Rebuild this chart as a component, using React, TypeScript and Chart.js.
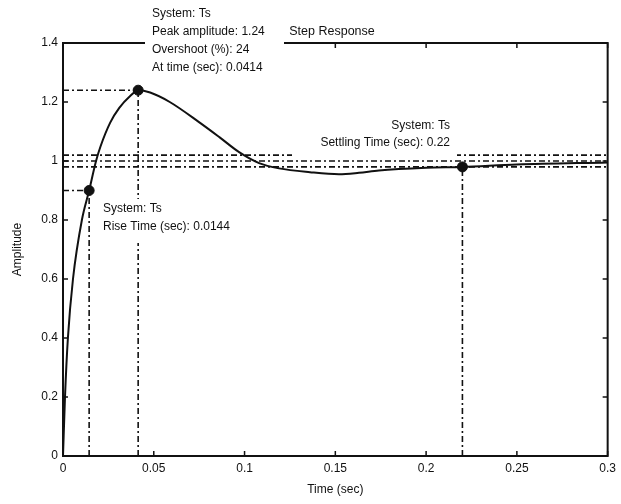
import React, { useEffect, useRef } from "react";
import { Chart, registerables } from "chart.js";

Chart.register(...registerables);

// Step response curve
const timeSec = [0, 0.0011, 0.0027, 0.0055, 0.0104, 0.0144, 0.0182, 0.0207, 0.026, 0.031, 0.037, 0.0414, 0.048, 0.0588, 0.0753, 0.0863, 0.097, 0.108, 0.119, 0.136, 0.152, 0.163, 0.174, 0.2, 0.22, 0.25, 0.3];
const amplitude = [0, 0.2, 0.4, 0.6, 0.8, 0.9, 1.0, 1.05, 1.13, 1.18, 1.22, 1.24, 1.232, 1.2, 1.13, 1.08, 1.03, 0.993, 0.975, 0.962, 0.955, 0.96, 0.968, 0.977, 0.98, 0.988, 0.995];

// Characteristic points: rise, peak, settling
const markerTimes = [0.0144, 0.0414, 0.22];
const markerValues = [0.9, 1.24, 0.98];

// Settling band levels
const bandLevels = [0.98, 1.0, 1.02];

const xTicks = [0, 0.05, 0.1, 0.15, 0.2, 0.25, 0.3];
const yTicks = [0, 0.2, 0.4, 0.6, 0.8, 1, 1.2, 1.4];

const titleText = "Step Response";
const xTitle = "Time (sec)";
const yTitle = "Amplitude";
const peakLines = ["System: Ts", "Peak amplitude: 1.24", "Overshoot (%): 24", "At time (sec): 0.0414"];
const riseLines = ["System: Ts", "Rise Time (sec): 0.0144"];
const settleLines = ["System: Ts", "Settling Time (sec): 0.22"];

const INK = "#111";
const FONT = "'Liberation Sans', Arial, sans-serif";
const DASH = [6, 3, 2, 3];

const annotPlugin = {
  id: "annot",
  beforeDraw(chart: any) {
    const { ctx, width, height } = chart;
    ctx.save();
    ctx.fillStyle = "#fff";
    ctx.fillRect(0, 0, width, height);
    ctx.restore();
  },
  afterDatasetsDraw(chart: any) {
    const { ctx, chartArea: a, scales } = chart;
    const xs = scales.x;
    const ys = scales.y;
    ctx.save();
    // frame
    ctx.strokeStyle = INK;
    ctx.lineWidth = 2;
    ctx.setLineDash([]);
    ctx.strokeRect(a.left, a.top, a.right - a.left, a.bottom - a.top);
    // inward ticks on all sides
    ctx.lineWidth = 1.5;
    ctx.beginPath();
    xs.ticks.forEach((t: any) => {
      const px = xs.getPixelForValue(t.value);
      ctx.moveTo(px, a.bottom);
      ctx.lineTo(px, a.bottom - 5);
      ctx.moveTo(px, a.top);
      ctx.lineTo(px, a.top + 5);
    });
    ys.ticks.forEach((t: any) => {
      const py = ys.getPixelForValue(t.value);
      ctx.moveTo(a.left, py);
      ctx.lineTo(a.left + 5, py);
      ctx.moveTo(a.right, py);
      ctx.lineTo(a.right - 5, py);
    });
    ctx.stroke();

    // data tip boxes (white background)
    ctx.fillStyle = "#fff";
    ctx.fillRect(145, 4, 139, 74);
    ctx.fillRect(292, 116, 165, 42);
    ctx.fillRect(97, 199, 155, 44);

    ctx.fillStyle = INK;
    ctx.font = `12px ${FONT}`;
    ctx.textBaseline = "middle";
    ctx.textAlign = "left";
    const peakY = [14, 32, 50, 68];
    peakLines.forEach((s, i) => ctx.fillText(s, 152, peakY[i]));
    const riseY = [209, 227];
    riseLines.forEach((s, i) => ctx.fillText(s, 103, riseY[i]));
    ctx.textAlign = "right";
    const settleY = [126, 143];
    settleLines.forEach((s, i) => ctx.fillText(s, 450, settleY[i]));

    // title
    ctx.textAlign = "center";
    ctx.font = `12.5px ${FONT}`;
    ctx.fillText(titleText, 332, 32);
    ctx.restore();
  },
};

function refLine(data: { x: number; y: number }[]) {
  return {
    type: "scatter" as const,
    data,
    showLine: true,
    borderColor: INK,
    borderWidth: 1.6,
    borderDash: DASH,
    pointRadius: 0,
    fill: false,
    tension: 0,
  };
}

export default function App() {
  const canvasRef = useRef<HTMLCanvasElement | null>(null);

  useEffect(() => {
    const canvas = canvasRef.current;
    if (!canvas) return;
    const xMin = xTicks[0];
    const xMax = xTicks[xTicks.length - 1];

    const datasets: any[] = [];
    // settling band lines
    bandLevels.forEach((lv) => {
      datasets.push(refLine([{ x: xMin, y: lv }, { x: xMax, y: lv }]));
    });
    // rise and peak: horizontal from axis + vertical to axis
    [0, 1].forEach((i) => {
      datasets.push(refLine([{ x: xMin, y: markerValues[i] }, { x: markerTimes[i], y: markerValues[i] }]));
    });
    markerTimes.forEach((t, i) => {
      datasets.push(refLine([{ x: t, y: 0 }, { x: t, y: markerValues[i] }]));
    });
    // curve
    datasets.push({
      type: "scatter",
      data: timeSec.map((t, i) => ({ x: t, y: amplitude[i] })),
      showLine: true,
      borderColor: INK,
      borderWidth: 2,
      pointRadius: 0,
      cubicInterpolationMode: "monotone",
      fill: false,
    });
    // markers
    datasets.push({
      type: "scatter",
      data: markerTimes.map((t, i) => ({ x: t, y: markerValues[i] })),
      showLine: false,
      pointRadius: 5,
      pointBackgroundColor: INK,
      pointBorderColor: INK,
      pointBorderWidth: 1,
    });

    const chart = new Chart(canvas, {
      type: "scatter",
      data: { datasets },
      plugins: [annotPlugin],
      options: {
        animation: false,
        responsive: false,
        devicePixelRatio: 1,
        layout: { padding: { top: 43, right: 12, left: 0, bottom: 0 } },
        plugins: {
          legend: { display: false },
          tooltip: { enabled: false },
          title: { display: false },
        },
        scales: {
          x: {
            type: "linear",
            position: "bottom",
            min: xMin,
            max: xMax,
            afterBuildTicks: (s: any) => {
              s.ticks = xTicks.map((v) => ({ value: v }));
            },
            ticks: {
              color: INK,
              font: { family: FONT, size: 12 },
              padding: 5,
              maxRotation: 0,
              autoSkip: false,
              callback: (v: any) => String(parseFloat(Number(v).toFixed(3))),
            },
            grid: { display: false, drawTicks: false },
            border: { display: false },
            title: {
              display: true,
              text: xTitle,
              color: INK,
              font: { family: FONT, size: 12 },
              padding: { top: 0, bottom: 7 },
            },
            afterFit: (s: any) => {
              s.height = 48;
            },
          },
          y: {
            type: "linear",
            position: "left",
            min: yTicks[0],
            max: yTicks[yTicks.length - 1],
            afterBuildTicks: (s: any) => {
              s.ticks = yTicks.map((v) => ({ value: v }));
            },
            ticks: {
              color: INK,
              font: { family: FONT, size: 12 },
              padding: 5,
              autoSkip: false,
              callback: (v: any) => String(parseFloat(Number(v).toFixed(2))),
            },
            grid: { display: false, drawTicks: false },
            border: { display: false },
            title: {
              display: true,
              text: yTitle,
              color: INK,
              font: { family: FONT, size: 12 },
              padding: { top: 10, bottom: 0 },
            },
            afterFit: (s: any) => {
              s.width = 63;
            },
          },
        },
      } as any,
    });
    return () => chart.destroy();
  }, []);

  return (
    <div style={{ position: "absolute", left: 0, top: 0, width: 621, height: 504, background: "#fff" }}>
      <canvas ref={canvasRef} width={621} height={504} style={{ display: "block", width: 621, height: 504 }} />
    </div>
  );
}
